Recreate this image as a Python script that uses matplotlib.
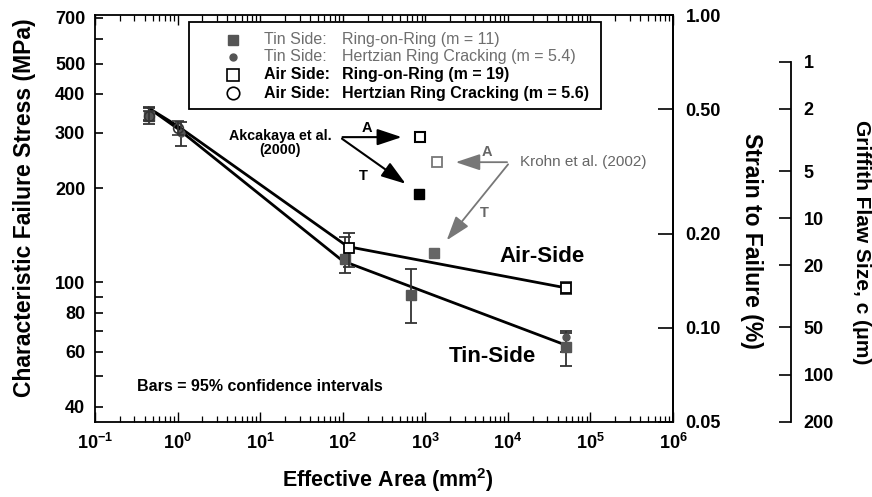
import matplotlib
matplotlib.use("Agg")
import matplotlib.pyplot as plt
from matplotlib.ticker import FixedLocator, NullLocator, FixedFormatter, LogLocator, NullFormatter
from matplotlib.patches import Rectangle
import numpy as np

plt.rcParams['font.family'] = ['Liberation Sans', 'DejaVu Sans']
plt.rcParams['font.weight'] = 'bold'
plt.rcParams['mathtext.fontset'] = 'custom'
plt.rcParams['mathtext.rm'] = 'Liberation Sans:bold'
plt.rcParams['mathtext.it'] = 'Liberation Sans:bold'
plt.rcParams['mathtext.bf'] = 'Liberation Sans:bold'
plt.rcParams['mathtext.default'] = 'regular'

# ---- data ----
tin_ror_x = [0.45, 106, 670, 5.0e4]
tin_ror_y = [340, 119, 91, 62]
tin_ror_lo = [320, 107, 74, 54]
tin_ror_hi = [362, 140, 110, 69]

tin_hz_x = [0.45, 1.1, 5.0e4]
tin_hz_y = [345, 300, 67]
tin_hz_lo = [330, 272, 60]
tin_hz_hi = [360, 325, 70]

air_ror_x = [119, 5.0e4]
air_ror_y = [129, 96]
air_ror_lo = [112, 92]
air_ror_hi = [144, 100]

air_hz_x = [0.45, 1.0]
air_hz_y = [340, 312]
air_hz_lo = [328, 295]
air_hz_hi = [352, 328]

tin_line_x = [0.45, 1.0, 100, 5.0e4]
tin_line_y = [360, 310, 117, 63]
air_line_x = [0.45, 1.0, 115, 5.0e4]
air_line_y = [360, 316, 130, 96]

akc_air = (860, 291)
akc_tin = (850, 192)
kro_air = (1400, 243)
kro_tin = (1260, 124)

y_ticks = [40, 60, 80, 100, 200, 300, 400, 500, 700]
y_minor = [50, 70, 90, 600]
strain_ticks = [0.05, 0.10, 0.20, 0.50, 1.00]
flaw_ticks = [1, 2, 5, 10, 20, 50, 100, 200]

E_per_pct = 715.0   # MPa per 1 % strain
K_flaw = 507.0      # stress (MPa) for c = 1 um
ylo, yhi = 35.75, 715.0

legend_markers = ['s', 'o', 's', 'o']
legend_left = ['Tin Side:', 'Tin Side:', 'Air Side:', 'Air Side:']
legend_right = ['Ring-on-Ring (m = 11)', 'Hertzian Ring Cracking (m = 5.4)',
                'Ring-on-Ring (m = 19)', 'Hertzian Ring Cracking (m = 5.6)']

gray = '#555555'
lgray = '#6e6e6e'

fig = plt.figure(figsize=(8.72, 4.97), dpi=100)
ax = fig.add_axes([95/872, 1-422/497, 578/872, 407/497])
ax.set_xscale('log')
ax.set_yscale('log')
ax.set_xlim(1e-1, 1e6)
ax.set_ylim(ylo, yhi)

# lines
ax.plot(tin_line_x, tin_line_y, color='black', lw=2.0, zorder=3)
ax.plot(air_line_x, air_line_y, color='black', lw=2.0, zorder=3)

def eb(y, lo, hi):
    y = np.array(y); lo = np.array(lo); hi = np.array(hi)
    return np.vstack([y - lo, hi - y])

ax.errorbar(tin_ror_x, tin_ror_y, yerr=eb(tin_ror_y, tin_ror_lo, tin_ror_hi),
            fmt='s', ms=6.5, color=gray, mec=gray, ecolor='#333333', elinewidth=1.3,
            capsize=4, capthick=1.3, zorder=4)
ax.errorbar(tin_hz_x, tin_hz_y, yerr=eb(tin_hz_y, tin_hz_lo, tin_hz_hi),
            fmt='o', ms=5, color=gray, mec=gray, ecolor='#333333', elinewidth=1.3,
            capsize=4, capthick=1.3, zorder=4)
ax.errorbar(air_ror_x, air_ror_y, yerr=eb(air_ror_y, air_ror_lo, air_ror_hi),
            fmt='s', ms=7, mfc='white', mec='black', mew=1.3, ecolor='#333333', elinewidth=1.3,
            capsize=4, capthick=1.3, zorder=5)
ax.errorbar(air_hz_x, air_hz_y, yerr=eb(air_hz_y, air_hz_lo, air_hz_hi),
            fmt='o', ms=7, mfc='none', mec='#333333', mew=1.2, ecolor='#333333', elinewidth=1.3,
            capsize=4, capthick=1.3, zorder=5)

# literature points
ax.plot(*akc_air, 's', ms=7, mfc='white', mec='black', mew=1.5, zorder=5)
ax.plot(*akc_tin, 's', ms=6.5, color='black', zorder=5)
ax.plot(*kro_air, 's', ms=7, mfc='white', mec='#777777', mew=1.3, zorder=5)
ax.plot(*kro_tin, 's', ms=6.5, color='#666666', zorder=5)

# arrows (Akcakaya)
akc_v = (92, 291)
ax.annotate('', xy=(560, 291), xytext=akc_v,
            arrowprops=dict(arrowstyle='-|>,head_length=1.5,head_width=0.5', color='black', lw=1.5))
ax.annotate('', xy=(617, 204), xytext=akc_v,
            arrowprops=dict(arrowstyle='-|>,head_length=1.5,head_width=0.5', color='black', lw=1.5))
ax.text(17.4, 278, 'Akcakaya et al.\n(2000)', ha='center', va='center', fontsize=10.3,
        fontweight='bold', linespacing=1.0)
ax.text(196, 311, 'A', ha='center', va='center', fontsize=10.5, fontweight='bold')
ax.text(176, 219, 'T', ha='center', va='center', fontsize=10.5, fontweight='bold')

# arrows (Krohn)
kro_v = (10570, 242)
ax.annotate('', xy=(2160, 242), xytext=kro_v,
            arrowprops=dict(arrowstyle='-|>,head_length=1.5,head_width=0.5', color='#777777', lw=1.3))
ax.annotate('', xy=(1730, 134), xytext=kro_v,
            arrowprops=dict(arrowstyle='-|>,head_length=1.5,head_width=0.5', color='#777777', lw=1.3))
ax.text(13960, 243, 'Krohn et al. (2002)', ha='left', va='center', fontsize=11,
        fontweight='normal', color='#666666')
ax.text(5570, 260, 'A', ha='center', va='center', fontsize=10.5, color='#666666')
ax.text(5250, 167, 'T', ha='center', va='center', fontsize=10.5, color='#666666')

ax.text(26300, 121, 'Air-Side', ha='center', va='center', fontsize=16, fontweight='bold')
ax.text(6580, 58, 'Tin-Side', ha='center', va='center', fontsize=16, fontweight='bold')
ax.text(0.073, 0.086, 'Bars = 95% confidence intervals', transform=ax.transAxes,
        ha='left', va='center', fontsize=11.5, fontweight='bold')

# legend drawn manually
ax.add_patch(Rectangle((0.163, 0.769), 0.875-0.163, 0.983-0.769, transform=ax.transAxes,
                       fill=True, facecolor='white', edgecolor='black', lw=1.3, zorder=6))
rows = [0.939, 0.897, 0.853, 0.808]
styles = [dict(ms=7, color=gray), dict(ms=5, color=gray),
          dict(ms=8, mfc='white', mec='black', mew=1.2),
          dict(ms=9, mfc='white', mec='black', mew=1.2)]
colors = [lgray, lgray, 'black', 'black']
for r, m, st, c, l1, l2 in zip(rows, legend_markers, styles, colors, legend_left, legend_right):
    ax.plot([0.239], [r], m, transform=ax.transAxes, zorder=7, clip_on=False, **st)
    w = 'bold' if c == 'black' else 'normal'
    ax.text(0.292, r, l1, transform=ax.transAxes, ha='left', va='center', fontsize=11.5,
            color=c, fontweight=w, zorder=7)
    ax.text(0.427, r, l2, transform=ax.transAxes, ha='left', va='center', fontsize=11.5,
            color=c, fontweight=w, zorder=7)

# axes ticks
ax.yaxis.set_major_locator(FixedLocator(y_ticks + y_minor))
ax.yaxis.set_major_formatter(FixedFormatter([str(v) for v in y_ticks] + [''] * len(y_minor)))
ax.yaxis.set_minor_locator(NullLocator())
ax.xaxis.set_major_locator(LogLocator(base=10, numticks=20))
ax.xaxis.set_minor_locator(LogLocator(base=10, subs=np.arange(2, 10), numticks=20))
ax.xaxis.set_minor_formatter(NullFormatter())
ax.tick_params(axis='y', which='major', direction='in', length=6, width=1.2, labelsize=13,
               right=False, pad=7)
ax.tick_params(axis='x', which='major', direction='in', length=7, width=1.0, labelsize=13,
               top=True, pad=8)
ax.tick_params(axis='x', which='minor', direction='in', length=4, width=0.9, top=True)
for lab in ax.get_xticklabels() + ax.get_yticklabels():
    lab.set_fontweight('bold')
for s in ax.spines.values():
    s.set_linewidth(1.3)

# strain axis
ax2 = ax.twinx()
ax2.set_yscale('log')
ax2.set_ylim(ylo / E_per_pct, yhi / E_per_pct)
ax2.yaxis.set_major_locator(FixedLocator(strain_ticks))
ax2.yaxis.set_major_formatter(FixedFormatter(['%.2f' % v for v in strain_ticks]))
ax2.yaxis.set_minor_locator(NullLocator())
ax2.tick_params(axis='y', direction='in', length=11, width=1.2, labelsize=13, pad=9)
for s in ['top', 'bottom', 'left']:
    ax2.spines[s].set_visible(False)
ax2.spines['right'].set_linewidth(1.3)

# Griffith flaw size axis
ax3 = ax.twinx()
ax3.set_yscale('log')
ax3.set_ylim((K_flaw / ylo) ** 2, (K_flaw / yhi) ** 2)
ax3.spines['right'].set_position(('axes', (791 - 95) / 578))
ax3.spines['right'].set_bounds(1, 200)
ax3.spines['right'].set_linewidth(1.3)
for s in ['top', 'bottom', 'left']:
    ax3.spines[s].set_visible(False)
ax3.yaxis.set_major_locator(FixedLocator(flaw_ticks))
ax3.yaxis.set_major_formatter(FixedFormatter([str(v) for v in flaw_ticks]))
ax3.yaxis.set_minor_locator(NullLocator())
ax3.tick_params(axis='y', direction='in', length=9, width=1.2, labelsize=13, pad=9)
for a in (ax2, ax3):
    for lab in a.get_yticklabels():
        lab.set_fontweight('bold')

fig.text(25/872, 1-208/497, 'Characteristic Failure Stress (MPa)', rotation=90,
         ha='center', va='center', fontsize=16.5, fontweight='bold')
fig.text(388/872, 1-480/497, 'Effective Area (mm$^{2}$)', ha='center', va='center',
         fontsize=15.5, fontweight='bold')
fig.text(751/872, 1-241/497, 'Strain to Failure (%)', rotation=270,
         ha='center', va='center', fontsize=16.5, fontweight='bold')
fig.text(861/872, 1-242/497, 'Griffith Flaw Size, c (\u03bcm)', rotation=270,
         ha='center', va='center', fontsize=15, fontweight='bold')

fig.savefig('out.png', dpi=100)
